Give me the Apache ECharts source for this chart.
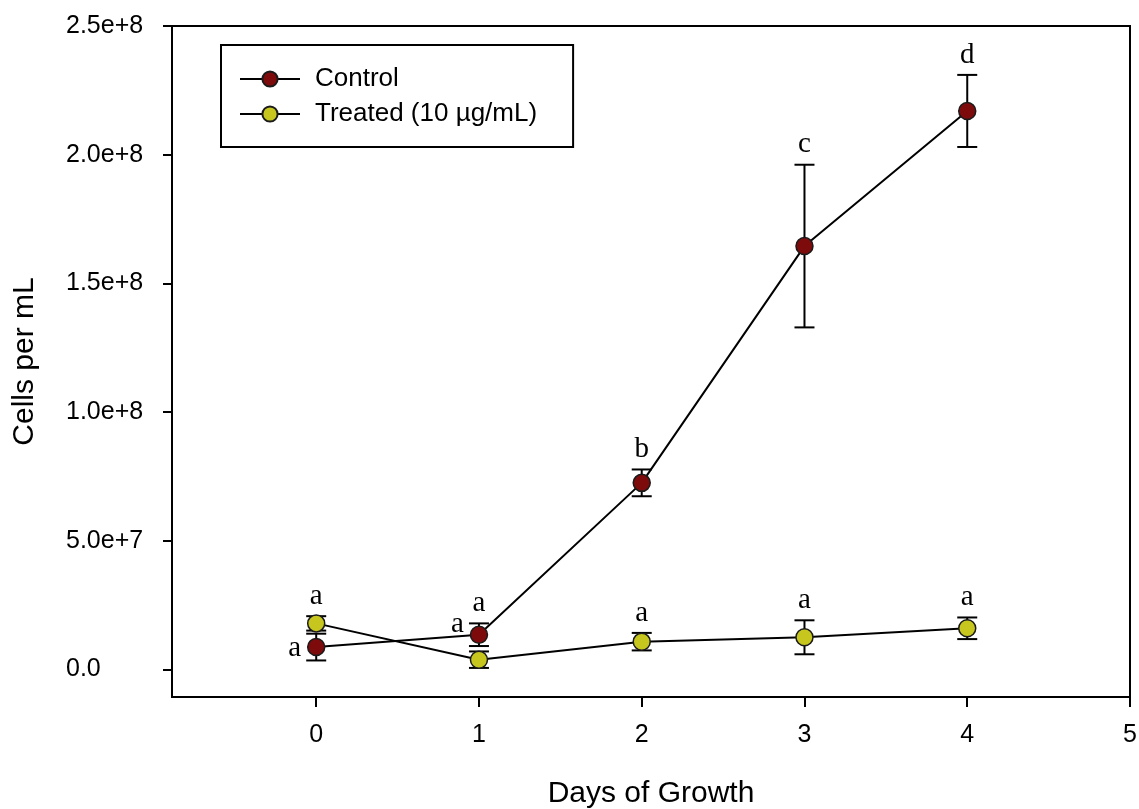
<!DOCTYPE html>
<html>
<head>
<meta charset="utf-8">
<script src="https://cdn.jsdelivr.net/npm/echarts@6/dist/echarts.min.js"></script>
<style>
  html, body { margin: 0; padding: 0; background: #ffffff; }
  #chart { width: 1139px; height: 809px; }
</style>
</head>
<body>
<div id="chart"></div>
<script>
// Growth of cultures over four days: mean cell density with error bars
const days = [0, 1, 2, 3, 4];

const controlMean = [8.7e6, 1.35e7, 7.25e7, 1.645e8, 2.17e8];
const controlErr  = [5.2e6, 4.4e6, 5.2e6, 3.16e7, 1.4e7];

const treatedMean = [1.79e7, 3.8e6, 1.08e7, 1.25e7, 1.6e7];
const treatedErr  = [2.8e6, 3.2e6, 3.4e6, 6.6e6, 4.2e6];

// significance letters and where each one sits relative to its point
const controlLetters = ['a', 'a', 'b', 'c', 'd'];
const controlPlace   = ['left', 'leftcap', 'above', 'above', 'above'];
const treatedLetters = ['a', 'a', 'a', 'a', 'a'];
const treatedPlace   = ['above', 'stack', 'above', 'above', 'above'];

const xTicks = [0, 1, 2, 3, 4, 5];
const yTicks = [0, 5e7, 1e8, 1.5e8, 2e8, 2.5e8];
const yTickLabels = ['0.0', '5.0e+7', '1.0e+8', '1.5e+8', '2.0e+8', '2.5e+8'];

const seriesNames = ['Control', 'Treated (10 µg/mL)'];
const seriesColors = ['#7d0b0b', '#c6c61e'];

const SANS = '"Liberation Sans", Arial, sans-serif';

function errorRows(means, errs) {
  return days.map((d, i) => [d, means[i] - errs[i], means[i] + errs[i]]);
}

function letterRows(means, errs, letters, places, otherMeans, otherErrs) {
  return days.map((d, i) => {
    const top = means[i] + errs[i];
    const mode = places[i];
    let y;
    if (mode === 'left') y = means[i];
    else if (mode === 'stack') y = Math.max(top, otherMeans[i] + otherErrs[i]);
    else y = top;
    return { value: [d, y], letter: letters[i], mode: mode };
  });
}

const letterList = letterRows(controlMean, controlErr, controlLetters, controlPlace, treatedMean, treatedErr)
  .concat(letterRows(treatedMean, treatedErr, treatedLetters, treatedPlace, controlMean, controlErr));

function renderErrorBar(params, api) {
  const x = api.value(0);
  const pLo = api.coord([x, api.value(1)]);
  const pHi = api.coord([x, api.value(2)]);
  const hw = 10;
  const st = { stroke: '#000', lineWidth: 2 };
  return {
    type: 'group',
    children: [
      { type: 'line', shape: { x1: pLo[0], y1: pLo[1], x2: pHi[0], y2: pHi[1] }, style: st },
      { type: 'line', shape: { x1: pHi[0] - hw, y1: pHi[1], x2: pHi[0] + hw, y2: pHi[1] }, style: st },
      { type: 'line', shape: { x1: pLo[0] - hw, y1: pLo[1], x2: pLo[0] + hw, y2: pLo[1] }, style: st }
    ]
  };
}

function renderLetter(params, api) {
  const it = letterList[params.dataIndex];
  const p = api.coord([api.value(0), api.value(1)]);
  const side = it.mode === 'left' || it.mode === 'leftcap';
  return {
    type: 'text',
    x: side ? p[0] - 15 : p[0],
    y: side ? p[1] + 1 : p[1] - 20,
    style: {
      text: it.letter,
      font: '29px "Liberation Serif", "Times New Roman", serif',
      fill: '#000',
      align: side ? 'right' : 'center',
      verticalAlign: 'middle'
    }
  };
}

function pointSeries(name, color, means) {
  return {
    type: 'line',
    name: name,
    data: days.map((d, i) => [d, means[i]]),
    symbol: 'circle',
    symbolSize: 17,
    showSymbol: true,
    itemStyle: { color: color, borderColor: '#1a1a1a', borderWidth: 1.5 },
    lineStyle: { color: '#000', width: 2 },
    z: 4
  };
}

const chart = echarts.init(document.getElementById('chart'), null, { renderer: 'canvas' });

chart.setOption({
  animation: false,
  backgroundColor: '#ffffff',
  grid: {
    left: 172, right: 9, top: 26, bottom: 112,
    outerBoundsMode: 'none',
    containLabel: false,
    show: true, borderColor: '#000', borderWidth: 2, backgroundColor: 'transparent'
  },
  legend: {
    orient: 'vertical',
    left: 221, top: 45,
    borderColor: '#000', borderWidth: 2, borderRadius: 0,
    padding: [21, 36, 20, 18],
    itemWidth: 60, itemHeight: 19, itemGap: 9,
    textStyle: { fontFamily: SANS, fontSize: 26, color: '#000', padding: [0, 0, 0, 10] },
    data: seriesNames
  },
  xAxis: {
    type: 'value',
    min: -0.886, max: 5,
    name: 'Days of Growth',
    nameLocation: 'middle',
    nameGap: 82,
    nameTextStyle: { fontFamily: SANS, fontSize: 30, color: '#000' },
    axisLine: { show: true, onZero: false, lineStyle: { color: '#000', width: 2 } },
    axisTick: { show: true, inside: false, length: 10, customValues: xTicks, lineStyle: { color: '#000', width: 2 } },
    axisLabel: { customValues: xTicks, fontFamily: SANS, fontSize: 25, color: '#000', margin: 26 },
    splitLine: { show: false }
  },
  yAxis: {
    type: 'value',
    min: -1.07e7, max: 2.5e8,
    name: 'Cells per mL',
    nameLocation: 'middle',
    nameRotate: 90,
    nameGap: 132,
    nameTextStyle: { fontFamily: SANS, fontSize: 30, color: '#000' },
    axisLine: { show: true, onZero: false, lineStyle: { color: '#000', width: 2 } },
    axisTick: { show: true, inside: false, length: 9, customValues: yTicks, lineStyle: { color: '#000', width: 2 } },
    axisLabel: {
      customValues: yTicks,
      fontFamily: SANS, fontSize: 25, color: '#000',
      align: 'left', margin: 106,
      formatter: function (v) {
        const k = yTicks.findIndex(t => Math.abs(t - v) < 1);
        return k >= 0 ? yTickLabels[k] : '';
      }
    },
    splitLine: { show: false }
  },
  series: [
    {
      type: 'custom', name: 'Control error', renderItem: renderErrorBar,
      data: errorRows(controlMean, controlErr), encode: { x: 0, y: [1, 2] }, z: 2, silent: true
    },
    {
      type: 'custom', name: 'Treated error', renderItem: renderErrorBar,
      data: errorRows(treatedMean, treatedErr), encode: { x: 0, y: [1, 2] }, z: 2, silent: true
    },
    pointSeries(seriesNames[0], seriesColors[0], controlMean),
    pointSeries(seriesNames[1], seriesColors[1], treatedMean),
    {
      type: 'custom', name: 'Letters', renderItem: renderLetter,
      data: letterList.map(o => o.value), encode: { x: 0, y: 1 }, z: 6, silent: true
    }
  ]
});
</script>
</body>
</html>
